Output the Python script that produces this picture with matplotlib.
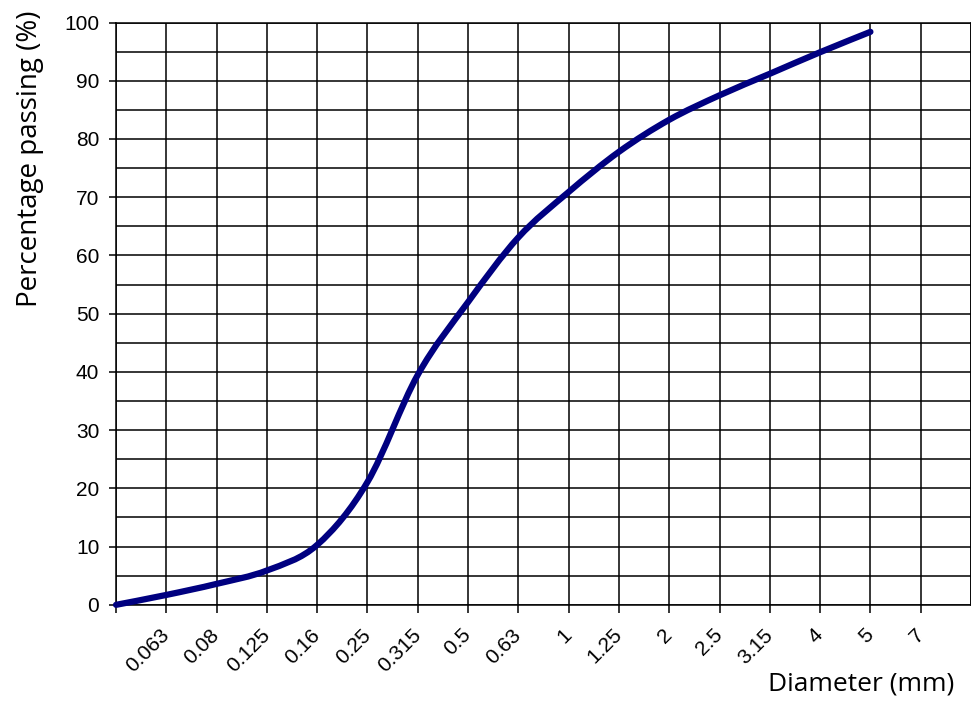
import numpy as np
import matplotlib.pyplot as plt
from matplotlib.path import Path
from matplotlib.patches import PathPatch

# sieve sizes (mm), evenly spaced along x; position 0 is the origin
sieve_labels = ['0.063', '0.08', '0.125', '0.16', '0.25', '0.315', '0.5',
                '0.63', '1', '1.25', '2', '2.5', '3.15', '4', '5', '7']
# cumulative percentage passing, starting at the origin
passing = [0, 1.7, 3.6, 5.9, 10.3, 21.1, 39.5, 52.0, 63.1, 70.9,
           77.8, 83.3, 87.5, 91.2, 94.9, 98.4]

plt.rcParams['font.family'] = ['Liberation Sans', 'DejaVu Sans']

fig = plt.figure(figsize=(9.71, 7.06), dpi=100)
ax = fig.add_axes([0.1195, 0.1433, 0.8805, 0.8248])

# smooth curve through the points (catmull-rom as cubic beziers)
x = np.arange(len(passing), dtype=float)
y = np.array(passing, dtype=float)
pts = np.column_stack([x, y])
verts = [pts[0]]
codes = [Path.MOVETO]
n = len(pts)
for i in range(n - 1):
    p0 = pts[max(i - 1, 0)]
    p1 = pts[i]
    p2 = pts[i + 1]
    p3 = pts[min(i + 2, n - 1)]
    c1 = p1 + (p2 - p0) / 6
    c2 = p2 - (p3 - p1) / 6
    verts += [c1, c2, p2]
    codes += [Path.CURVE4] * 3
curve = PathPatch(Path(verts, codes), fill=False, edgecolor='#000080',
                  lw=4.5, capstyle='round', joinstyle='round', zorder=5,
                  clip_on=False)
ax.add_patch(curve)

ax.set_xlim(0, 17)
ax.set_ylim(0, 100)
ax.set_xticks(np.arange(0, 17))
ax.set_xticklabels([''] + sieve_labels)
ax.set_xticks(np.arange(0, 18), minor=True)
ax.set_yticks(np.arange(0, 101, 10))
ax.set_yticks(np.arange(0, 101, 5), minor=True)

ax.grid(which='both', color='black', lw=1.1)
ax.tick_params(axis='y', which='major', length=5, width=1.1, labelsize=15, pad=7)
ax.tick_params(axis='y', which='minor', length=0)
ax.tick_params(axis='x', which='major', length=5.5, width=1.1, labelsize=15, pad=14)
ax.tick_params(axis='x', which='minor', length=0)
for lab in ax.get_xticklabels():
    lab.set_rotation(45)
    lab.set_rotation_mode('anchor')
    lab.set_ha('right')
    lab.set_va('center')
for s in ax.spines.values():
    s.set_color('black')
    s.set_linewidth(1.1)

fig.text(0.031, 0.775, 'Percentage passing (%)', rotation=90, ha='center',
         va='center', fontsize=20, family=['Open Sans', 'DejaVu Sans'])
fig.text(0.983, 0.013, 'Diameter (mm)', ha='right', va='bottom',
         fontsize=19, family=['Open Sans', 'DejaVu Sans'])

fig.savefig('out.png', dpi=100)
